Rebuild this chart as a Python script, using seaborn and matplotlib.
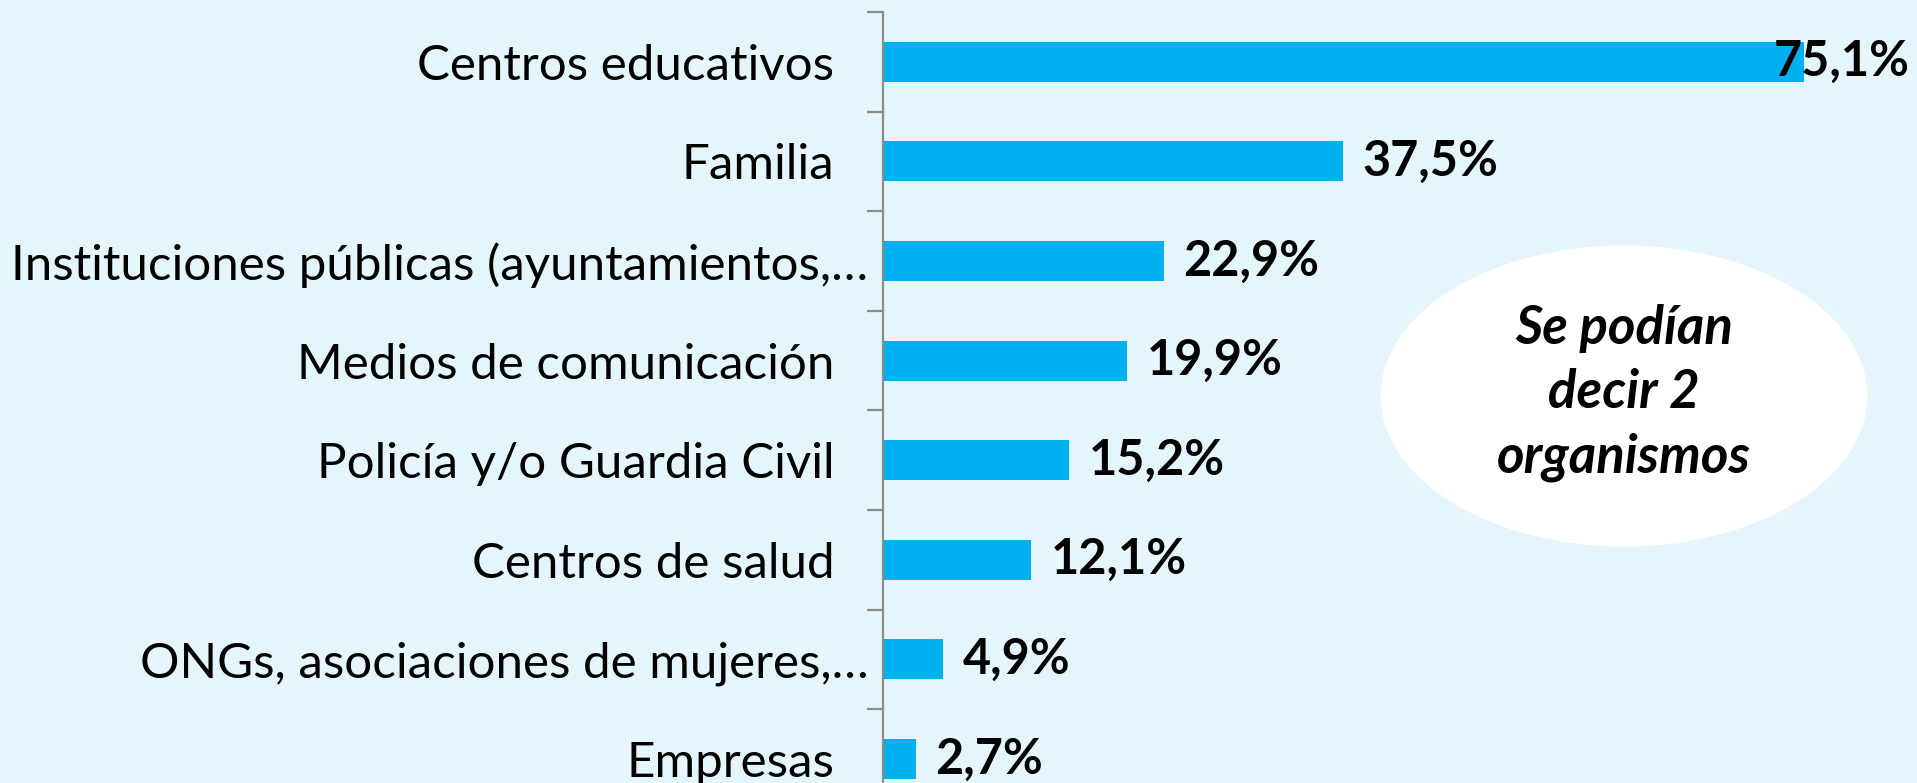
import matplotlib
matplotlib.use("Agg")
import matplotlib.pyplot as plt
import seaborn as sns
import pandas as pd
from matplotlib.patches import Ellipse
from matplotlib.transforms import ScaledTranslation

categories = [
    "Centros educativos",
    "Familia",
    "Instituciones públicas (ayuntamientos,…",
    "Medios de comunicación",
    "Policía y/o Guardia Civil",
    "Centros de salud",
    "ONGs, asociaciones de mujeres,…",
    "Empresas",
]
values = [75.1, 37.5, 22.9, 19.9, 15.2, 12.1, 4.9, 2.7]
value_labels = ["75,1%", "37,5%", "22,9%", "19,9%", "15,2%", "12,1%", "4,9%", "2,7%"]
note_text = "Se podían\ndecir 2\norganismos"

BG = "#E5F5FC"
BAR = "#00B0F0"
AXC = "#8C8C8C"

sns.set_style("white")
plt.rcParams["font.family"] = ["Lato", "DejaVu Sans"]

W, H, DPI = 1917, 783, 100
fig = plt.figure(figsize=(W / DPI, H / DPI), dpi=DPI, facecolor=BG)

# axes geometry in pixels
x0 = 883
px_per_unit = 12.26
xmax = 84
top_px = 12
step_px = 99.6
ax_h = step_px * len(categories)
ax = fig.add_axes([x0 / W, (H - top_px - ax_h) / H, xmax * px_per_unit / W, ax_h / H])
ax.set_facecolor(BG)

df = pd.DataFrame({"cat": categories, "val": values})
sns.barplot(data=df, y="cat", x="val", orient="h", color=BAR, width=0.40,
            saturation=1, ax=ax, edgecolor="none")

ax.set_xlim(0, xmax)
ax.set_ylim(len(categories) - 0.5, -0.5)
ax.set_xlabel("")
ax.set_ylabel("")
ax.set_xticks([])
for s in ["top", "right", "bottom"]:
    ax.spines[s].set_visible(False)
ax.spines["left"].set_color(AXC)
ax.spines["left"].set_linewidth(1.6)

# category boundary ticks
ax.set_yticks([i - 0.5 for i in range(len(categories) + 1)], minor=True)
ax.tick_params(axis="y", which="minor", left=True, length=11.5, width=1.6,
               color=AXC, direction="out")
ax.tick_params(axis="y", which="major", left=True, length=0, pad=35,
               labelsize=35.5, labelcolor="black")

# truncated labels sit closer to the axis
for i, lab in enumerate(ax.get_yticklabels()):
    if lab.get_text().endswith("…"):
        lab.set_transform(lab.get_transform() + ScaledTranslation(34 / DPI, 0, fig.dpi_scale_trans))

# value labels
imax = values.index(max(values))
for i, (v, t) in enumerate(zip(values, value_labels)):
    if i == imax:
        ax.annotate(t, xy=(1.0, i), xycoords=ax.get_yaxis_transform(),
                    xytext=(-2, 0), textcoords="offset points",
                    ha="right", va="center", fontsize=35, fontweight="bold", color="black")
    else:
        ax.annotate(t, xy=(v, i), xytext=(14, 0), textcoords="offset points",
                    ha="left", va="center", fontsize=35, fontweight="bold", color="black")

# note ellipse
cx, cy, ew, eh = 1624, 396, 487, 301
ell = Ellipse((cx / W, 1 - cy / H), ew / W, eh / H, transform=fig.transFigure,
              facecolor="white", edgecolor="none", zorder=5)
fig.patches.append(ell)
fig.text(cx / W, 1 - (cy - 3) / H, note_text, ha="center", va="center", fontsize=38,
         fontweight="bold", fontstyle="italic", linespacing=1.38, zorder=6, color="black")

fig.savefig("out.png", dpi=DPI, facecolor=BG)
